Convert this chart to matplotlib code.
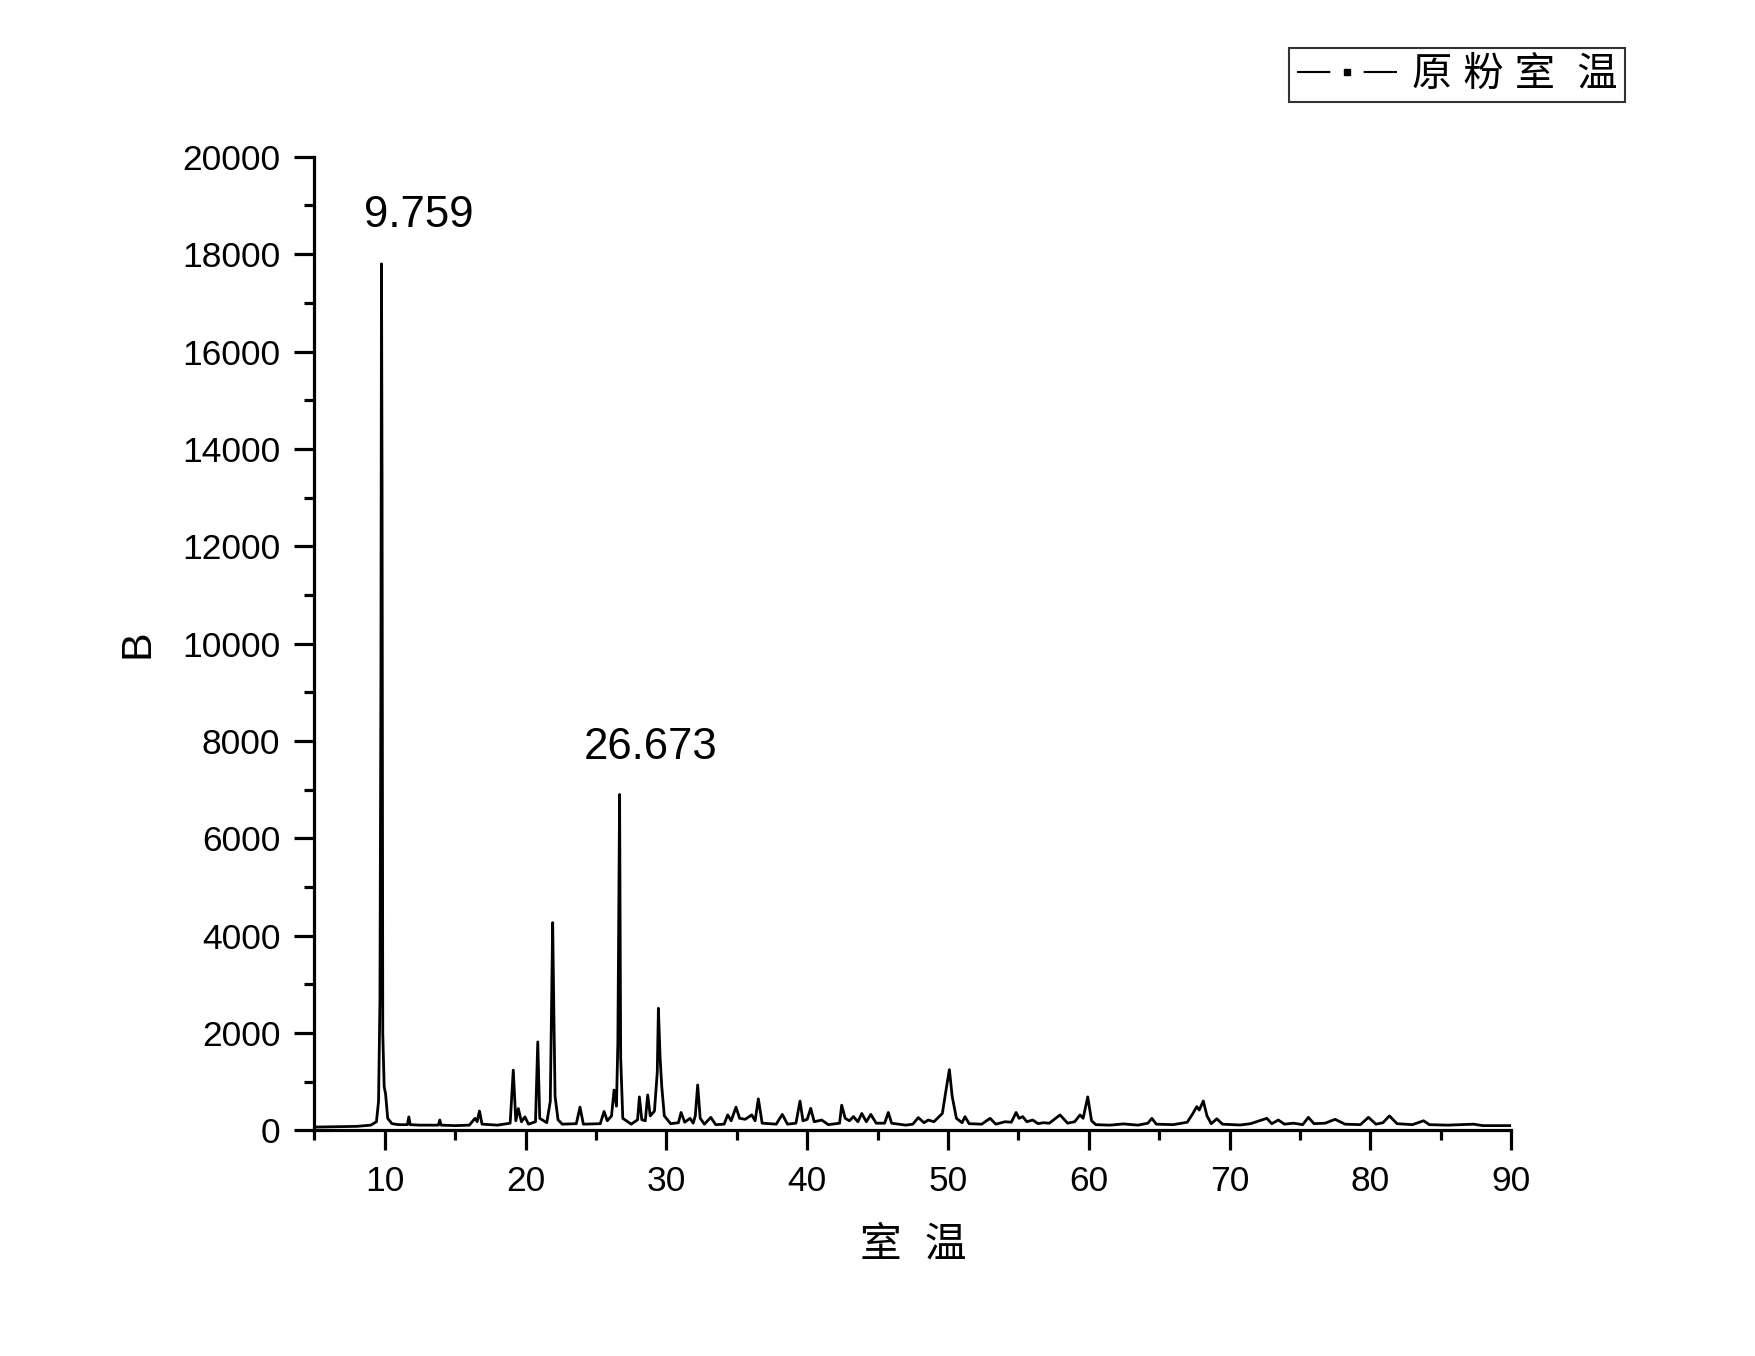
import matplotlib
matplotlib.use("Agg")
import matplotlib.pyplot as plt
from matplotlib.lines import Line2D
from matplotlib.ticker import MultipleLocator

plt.rcParams["font.family"] = ["Liberation Sans", "Noto Sans CJK SC", "DejaVu Sans"]

# XRD pattern points (2theta, counts)
two_theta = [
    5.0, 6.0, 7.0, 8.0, 9.0, 9.4, 9.55, 9.65, 9.72, 9.759, 9.8, 9.85, 9.95, 10.05, 10.2,
    10.5, 11.0, 11.6, 11.7, 11.8, 12.5, 13.8, 13.9, 14.0, 15.0, 16.0, 16.4, 16.55, 16.72,
    16.9, 18.0, 18.9, 19.12, 19.3, 19.48, 19.7, 19.95, 20.2, 20.7, 20.86, 21.0, 21.5,
    21.75, 21.92, 22.0, 22.09, 22.3, 22.6, 23.6, 23.86, 24.1, 25.3, 25.57, 25.8, 26.1,
    26.28, 26.45, 26.55, 26.673, 26.75, 26.9, 27.5, 27.95, 28.08, 28.25, 28.5, 28.67,
    28.85, 29.15, 29.35, 29.43, 29.55, 29.67, 29.85, 30.3, 30.85, 31.04, 31.3, 31.68,
    31.9, 32.05, 32.22, 32.4, 32.7, 33.15, 33.5, 34.1, 34.35, 34.6, 34.94, 35.2, 35.6,
    36.06, 36.3, 36.53, 36.8, 37.8, 38.23, 38.6, 39.2, 39.49, 39.7, 40.0, 40.25, 40.5,
    41.03, 41.5, 42.3, 42.45, 42.7, 43.0, 43.28, 43.6, 43.88, 44.2, 44.52, 44.9, 45.5,
    45.76, 46.0, 47.0, 47.5, 47.89, 48.3, 48.6, 49.0, 49.6, 49.9, 50.1, 50.3, 50.6, 51.0,
    51.21, 51.5, 52.4, 52.99, 53.4, 54.05, 54.5, 54.84, 55.05, 55.31, 55.6, 56.02, 56.4,
    56.78, 57.2, 57.96, 58.5, 59.0, 59.38, 59.6, 59.93, 60.2, 60.5, 61.5, 62.46, 63.5,
    64.2, 64.48, 64.8, 66.0, 67.0, 67.4, 67.67, 67.85, 68.14, 68.4, 68.7, 69.1, 69.5,
    70.75, 71.5, 72.65, 73.0, 73.47, 73.9, 74.54, 75.2, 75.6, 76.0, 76.8, 77.5, 78.2,
    79.3, 79.87, 80.4, 80.9, 81.36, 81.9, 83.0, 83.78, 84.2, 85.5, 87.33, 88.0, 90.0,
]
intensity = [
    70, 75, 80, 85, 110, 180, 600, 2700, 9400, 17800, 13200, 2000, 900, 750, 250,
    140, 120, 120, 280, 120, 110, 110, 215, 110, 100, 110, 250, 180, 400,
    130, 110, 150, 1240, 200, 450, 180, 280, 130, 180, 1820, 250, 160,
    600, 4270, 2500, 700, 220, 130, 140, 480, 130, 140, 390, 200, 300,
    830, 500, 1800, 6900, 1500, 250, 130, 220, 690, 220, 200, 730,
    300, 400, 1200, 2510, 1500, 900, 300, 140, 160, 370, 170, 250,
    150, 300, 935, 250, 130, 270, 120, 130, 320, 200, 480, 250, 230,
    320, 200, 650, 150, 130, 330, 130, 150, 605, 200, 230, 455, 180,
    215, 120, 150, 520, 250, 200, 285, 180, 350, 180, 330, 150, 150,
    370, 150, 110, 130, 265, 160, 215, 180, 350, 900, 1250, 700, 250, 160,
    285, 140, 130, 250, 130, 180, 170, 370, 250, 285, 180, 215, 140,
    160, 150, 320, 150, 180, 320, 250, 690, 200, 120, 110, 135, 110,
    150, 250, 130, 120, 170, 350, 490, 420, 605, 300, 140, 240, 130,
    113, 140, 250, 140, 215, 130, 150, 120, 270, 140, 150, 230, 130,
    120, 270, 130, 160, 300, 140, 120, 200, 120, 110, 130, 100, 100,
]

peak_labels = ["9.759", "26.673"]
peak_label_pos = [(12.4, 18800), (28.86, 7860)]

legend_text = "原粉室 温"
x_label = "室 温"
y_label = "B"

fig = plt.figure(figsize=(17.55, 13.56), dpi=100)
ax = fig.add_axes([0.1792, 0.1663, 0.6818, 0.7181])

ax.plot(two_theta, intensity, color="black", lw=2.0)

for txt, (px, py) in zip(peak_labels, peak_label_pos):
    ax.text(px, py, txt, fontsize=31.5, ha="center", va="center")

ax.set_xlim(5, 90)
ax.set_ylim(0, 20000)
ax.xaxis.set_major_locator(MultipleLocator(10))
ax.xaxis.set_minor_locator(MultipleLocator(5))
ax.yaxis.set_major_locator(MultipleLocator(2000))
ax.yaxis.set_minor_locator(MultipleLocator(1000))

for side in ["top", "right"]:
    ax.spines[side].set_visible(False)
for side in ["left", "bottom"]:
    ax.spines[side].set_linewidth(2.3)

ax.tick_params(which="major", direction="out", length=14.5, width=2.3,
               labelsize=25.5, pad=10)
ax.tick_params(which="minor", direction="out", length=7, width=2.3)

ax.set_xlabel("室  温", fontsize=30, labelpad=20)
ax.set_ylabel(y_label, fontsize=31, labelpad=18)

handle = Line2D([], [], color="black", lw=1.5, linestyle=(0, (16, 16)),
                marker="s", markersize=5, markerfacecolor="black")
leg = ax.legend([handle], ["原 粉 室  温"], loc="upper right",
                bbox_to_anchor=(0.926, 0.9645), bbox_transform=fig.transFigure,
                fontsize=29, handlelength=2.5, handletextpad=0.35,
                borderpad=0.2, borderaxespad=0, fancybox=False, numpoints=1,
                frameon=True)
leg.get_frame().set_edgecolor("black")
leg.get_frame().set_linewidth(1.5)

fig.savefig("out.png", dpi=100)
